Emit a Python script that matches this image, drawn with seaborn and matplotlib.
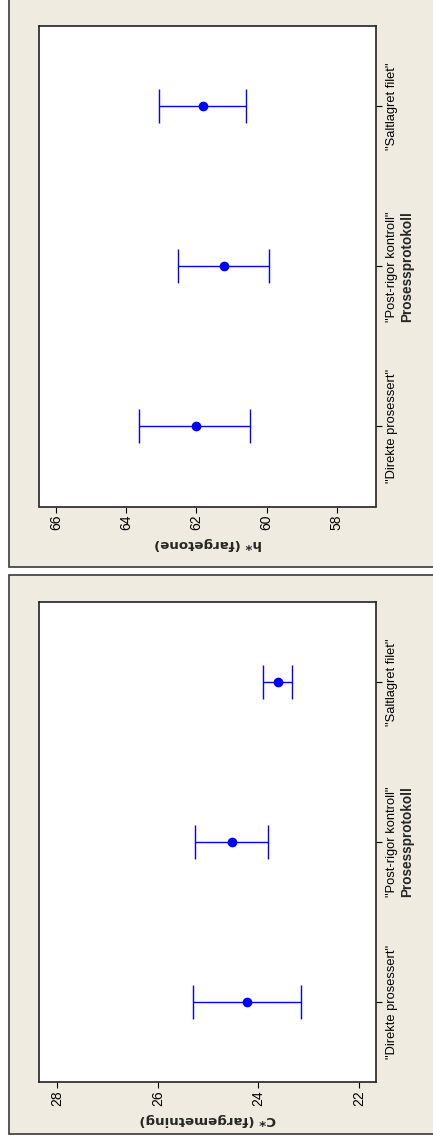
import numpy as np
import pandas as pd
import matplotlib
matplotlib.use("Agg")
import matplotlib.pyplot as plt
from matplotlib.patches import Rectangle
import seaborn as sns

# ---- data ----
categories = ['"Direkte prosessert"', '"Post-rigor kontroll"', '"Saltlagret filet"']
h_mean = [62.02, 61.22, 61.80]
h_low = [60.46, 59.93, 60.59]
h_high = [63.63, 62.52, 63.06]
c_mean = [24.23, 24.53, 23.61]
c_low = [23.15, 23.81, 23.33]
c_high = [25.31, 25.26, 23.90]
h_ticks = [58, 60, 62, 64, 66]
c_ticks = [22, 24, 26, 28]
x_title = "Prosessprotokoll"
h_title = "h* (fargetone)"
c_title = "C* (fargemetning)"

sns.set_style("white")
plt.rcParams['font.family'] = ['Liberation Sans Narrow', 'Liberation Sans', 'DejaVu Sans']

W, H = 433, 1148
fig = plt.figure(figsize=(W / 100, H / 100), dpi=100)
fig.patch.set_facecolor("white")

panel_col = "#EFEBE0"
# panel backgrounds (pixel coords from top)
for top, bot in [(-3, 567), (575, 1134)]:
    fig.patches.append(Rectangle((9 / W, (H - bot) / H), (W + 10 - 9) / W, (bot - top) / H,
                                 transform=fig.transFigure, facecolor=panel_col,
                                 edgecolor="#3a3a3a", lw=1.2, zorder=-5))


def panel(ax_rect, mean, low, high, ticks, xlim, ylabel):
    ax = fig.add_axes(ax_rect)
    ax.set_zorder(2)
    ax.set_facecolor("white")
    df = pd.DataFrame({"cat": categories, "val": mean})
    sns.pointplot(data=df, x="val", y="cat", order=categories, orient="h",
                  linestyle="none", color="#0000FF", errorbar=None,
                  markersize=7, markeredgewidth=0, ax=ax, zorder=3)
    m = np.array(mean)
    pos = np.arange(len(categories))
    ax.errorbar(m, pos, xerr=[m - np.array(low), np.array(high) - m], fmt="none",
                ecolor="#0000FF", elinewidth=1.0, capsize=12.2, capthick=1.0, zorder=2)
    ax.set_xlim(*xlim)
    ax.set_ylim(-0.5, len(categories) - 0.5)
    ax.set_xticks(ticks)
    ax.set_xticklabels([str(t) for t in ticks])
    ax.yaxis.tick_right()
    ax.yaxis.set_label_position("right")
    ax.tick_params(axis="x", bottom=True, direction="out", length=4, width=0.8,
                   labelrotation=90, labelsize=10, pad=2, colors="black")
    ax.tick_params(axis="y", right=True, left=False, direction="out", length=4, width=0.8,
                   labelrotation=90, labelsize=9.3, pad=3, colors="black")
    for lab in ax.get_yticklabels():
        lab.set_verticalalignment("center")
    ax.set_ylabel(x_title, rotation=90, fontsize=9.8, fontweight="bold", labelpad=2)
    ax.set_xlabel(ylabel, rotation=180, fontsize=9.6, fontweight="bold",
                  family="DejaVu Sans", labelpad=5)
    for s in ax.spines.values():
        s.set_visible(True)
        s.set_color("#222222")
        s.set_linewidth(1.2)
    return ax


ax_w = (376 - 39.3) / W
panel([39.3 / W, (H - 506.5) / H, ax_w, 480.5 / H], h_mean, h_low, h_high,
      h_ticks, (66.48, 56.88), h_title)
panel([39.3 / W, (H - 1082) / H, ax_w, 480 / H], c_mean, c_low, c_high,
      c_ticks, (28.36, 21.66), c_title)

fig.savefig("out.png", dpi=100)
